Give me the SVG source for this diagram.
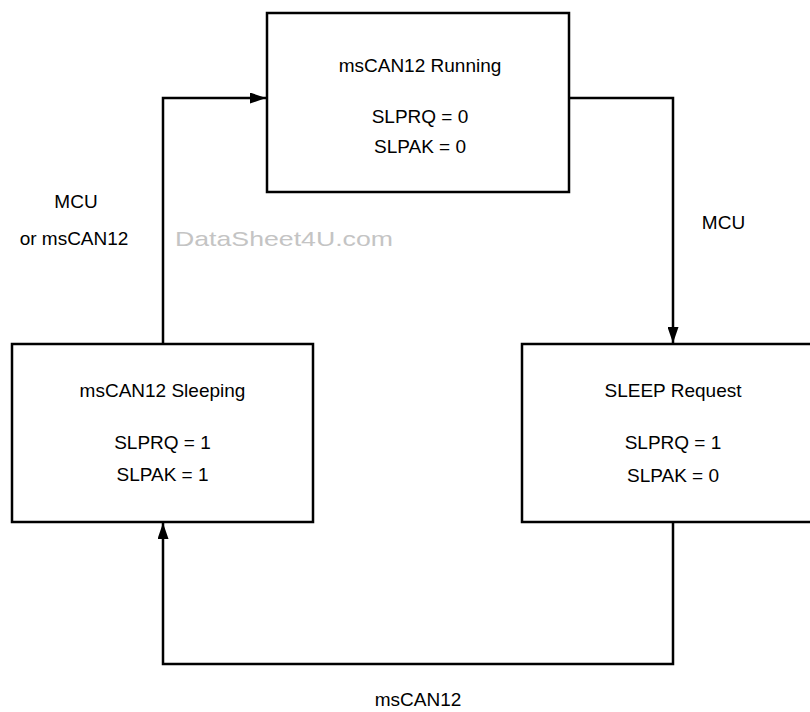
<svg xmlns="http://www.w3.org/2000/svg" width="810" height="712" viewBox="0 0 810 712">
  <style>
    .box { fill: #ffffff; stroke: #000000; stroke-width: 2.5; }
    .conn { fill: none; stroke: #000000; stroke-width: 2.5; }
    .t { font-family: "Liberation Sans", Arial, sans-serif; font-size: 19px; fill: #000000; text-anchor: middle; }
    .wm { font-family: "Liberation Sans", Arial, sans-serif; font-size: 21px; fill: #c4c4c4; }
  </style>
  <defs>
    <marker id="arrow" markerUnits="userSpaceOnUse" markerWidth="17" markerHeight="11" refX="16" refY="5.5" orient="auto">
      <path d="M0,0 L16,5.5 L0,11 Z" fill="#000000"/>
    </marker>
  </defs>
  <rect width="810" height="712" fill="#ffffff"/>

  <g id="connectors">
    <path class="conn" d="M163,344 L163,98 L266,98" marker-end="url(#arrow)"/>
    <path class="conn" d="M569,98 L673,98 L673,343" marker-end="url(#arrow)"/>
    <path class="conn" d="M673,522 L673,664 L163,664 L163,523" marker-end="url(#arrow)"/>
  </g>

  <g id="running">
    <rect class="box" x="267" y="13" width="302" height="179"/>
    <text class="t" x="420" y="72">msCAN12 Running</text>
    <text class="t" x="420" y="123">SLPRQ = 0</text>
    <text class="t" x="420" y="153">SLPAK = 0</text>
  </g>

  <g id="sleeping">
    <rect class="box" x="12" y="344" width="301" height="178"/>
    <text class="t" x="162.5" y="397">msCAN12 Sleeping</text>
    <text class="t" x="162.5" y="449">SLPRQ = 1</text>
    <text class="t" x="162.5" y="481">SLPAK = 1</text>
  </g>

  <g id="sleep-request">
    <rect class="box" x="522" y="344" width="302" height="178"/>
    <text class="t" x="673" y="397">SLEEP Request</text>
    <text class="t" x="673" y="449">SLPRQ = 1</text>
    <text class="t" x="673" y="482">SLPAK = 0</text>
  </g>

  <g id="labels">
    <text class="t" x="76" y="208">MCU</text>
    <text class="t" x="74" y="245">or msCAN12</text>
    <text class="t" x="723.5" y="229">MCU</text>
    <text class="t" x="418" y="706">msCAN12</text>
    <text class="wm" x="175" y="246" textLength="218" lengthAdjust="spacingAndGlyphs">DataSheet4U.com</text>
  </g>
</svg>
